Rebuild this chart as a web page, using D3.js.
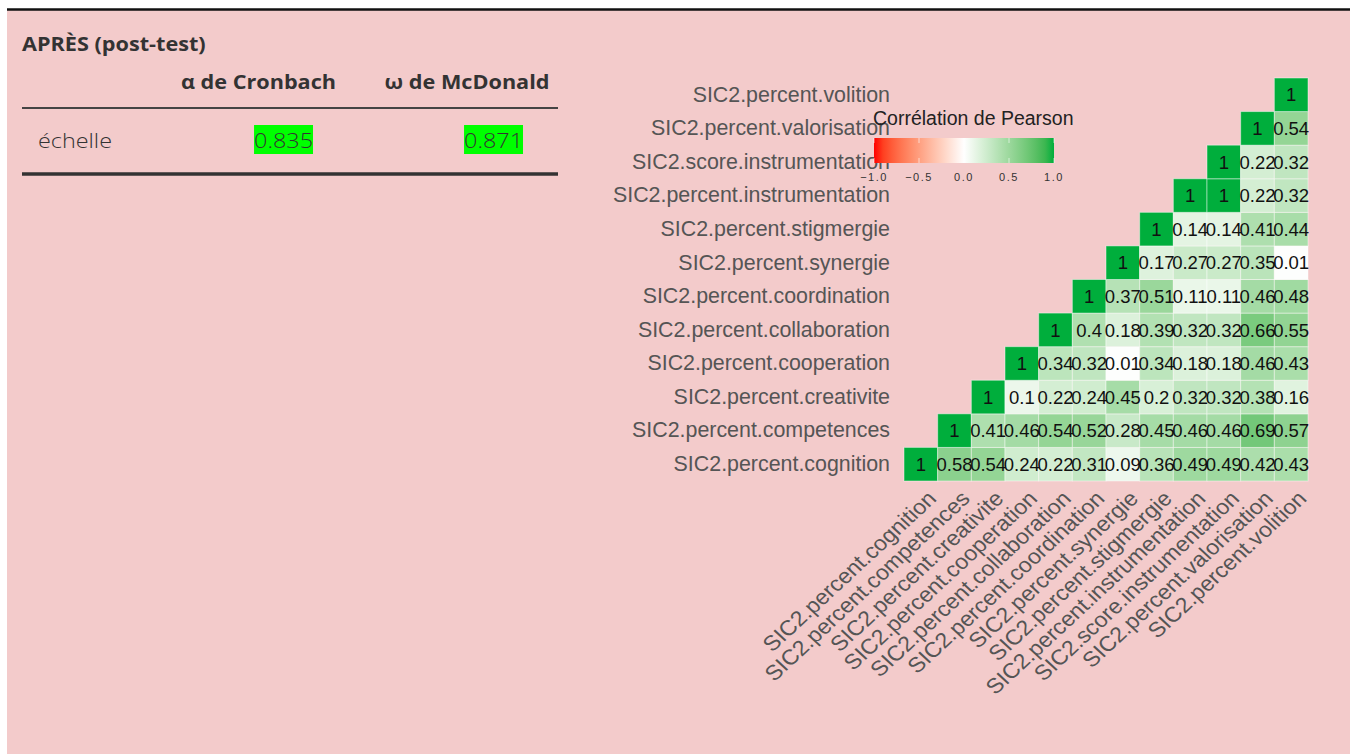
<!DOCTYPE html>
<html>
<head>
<meta charset="utf-8">
<script src="https://cdn.jsdelivr.net/npm/d3@7"></script>
<style>
  html, body { margin: 0; padding: 0; background: #ffffff; }
  svg { display: block; }
</style>
</head>
<body>
<svg id="chart" width="1350" height="754"></svg>
<script>
// ---- Reliability table ----
const tableTitle = "APRÈS (post-test)";
const tableHeaders = ["α de Cronbach", "ω de McDonald"];
const tableRowLabel = "échelle";
const tableValues = [0.835, 0.871];

// ---- Correlation matrix (upper triangle, each row starts on the diagonal) ----
const variables = [
  "SIC2.percent.cognition",
  "SIC2.percent.competences",
  "SIC2.percent.creativite",
  "SIC2.percent.cooperation",
  "SIC2.percent.collaboration",
  "SIC2.percent.coordination",
  "SIC2.percent.synergie",
  "SIC2.percent.stigmergie",
  "SIC2.percent.instrumentation",
  "SIC2.score.instrumentation",
  "SIC2.percent.valorisation",
  "SIC2.percent.volition"
];
const corrCognition      = [1, 0.58, 0.54, 0.24, 0.22, 0.31, 0.09, 0.36, 0.49, 0.49, 0.42, 0.43];
const corrCompetences    = [1, 0.41, 0.46, 0.54, 0.52, 0.28, 0.45, 0.46, 0.46, 0.69, 0.57];
const corrCreativite     = [1, 0.10, 0.22, 0.24, 0.45, 0.20, 0.32, 0.32, 0.38, 0.16];
const corrCooperation    = [1, 0.34, 0.32, 0.01, 0.34, 0.18, 0.18, 0.46, 0.43];
const corrCollaboration  = [1, 0.40, 0.18, 0.39, 0.32, 0.32, 0.66, 0.55];
const corrCoordination   = [1, 0.37, 0.51, 0.11, 0.11, 0.46, 0.48];
const corrSynergie       = [1, 0.17, 0.27, 0.27, 0.35, 0.01];
const corrStigmergie     = [1, 0.14, 0.14, 0.41, 0.44];
const corrPctInstrum     = [1, 1, 0.22, 0.32];
const corrScoreInstrum   = [1, 0.22, 0.32];
const corrValorisation   = [1, 0.54];
const corrVolition       = [1];
const corrRows = [corrCognition, corrCompetences, corrCreativite, corrCooperation,
  corrCollaboration, corrCoordination, corrSynergie, corrStigmergie,
  corrPctInstrum, corrScoreInstrum, corrValorisation, corrVolition];

const legendTitle = "Corrélation de Pearson";
const legendTicks = [-1, -0.5, 0, 0.5, 1];

// ---- Page frame ----
const svg = d3.select("#chart");
svg.append("rect").attr("x", 7).attr("y", 9).attr("width", 1343).attr("height", 745)
  .attr("fill", "#F3CBCB");
svg.append("line").attr("x1", 7).attr("x2", 1350).attr("y1", 9.5).attr("y2", 9.5)
  .attr("stroke", "#111").attr("stroke-width", 2.5);

// ---- Table ----
// The table face is wide: widen Open Sans horizontally around each anchor.
const boldStretch = 1.14, bodyStretch = 1.2;
const tbl = svg.append("g").attr("font-family", "'Open Sans', Lato, sans-serif").attr("fill", "#333");
tbl.append("text").attr("transform", `translate(22,51) scale(${boldStretch},1)`)
  .attr("font-size", 19).attr("font-weight", 700)
  .text(tableTitle);
const headerCenters = [258.5, 467];
tbl.selectAll("text.hdr").data(tableHeaders).join("text").attr("class", "hdr")
  .attr("transform", (d, i) => `translate(${headerCenters[i]},89) scale(${boldStretch},1)`)
  .attr("text-anchor", "middle").attr("font-size", 19).attr("font-weight", 700)
  .text(d => d);
tbl.append("line").attr("x1", 22).attr("x2", 558).attr("y1", 108).attr("y2", 108)
  .attr("stroke", "#444").attr("stroke-width", 2);
tbl.append("text").attr("transform", `translate(38,148) scale(${bodyStretch},1)`)
  .attr("font-size", 19.5).attr("font-weight", 300)
  .text(tableRowLabel);
const valueRight = [313, 523];
const valG = tbl.selectAll("g.val").data(tableValues).join("g").attr("class", "val");
const valText = valG.append("text")
  .attr("transform", (d, i) => `translate(${valueRight[i]},148) scale(${bodyStretch},1)`)
  .attr("text-anchor", "end").attr("font-size", 19.5).attr("font-weight", 300)
  .text(d => d3.format(".3f")(d));
valText.each(function (d, i) {
  const b = this.getBBox();
  d3.select(this.parentNode).insert("rect", "text")
    .attr("x", valueRight[i] + b.x * bodyStretch).attr("y", 125)
    .attr("width", b.width * bodyStretch).attr("height", 29)
    .attr("fill", "#00FF00");
});
tbl.append("line").attr("x1", 22).attr("x2", 558).attr("y1", 174).attr("y2", 174)
  .attr("stroke", "#333").attr("stroke-width", 3.5);

// ---- Correlation heatmap ----
const x = d3.scaleBand().domain(variables).range([904, 1308]);
const y = d3.scaleBand().domain(variables).range([481, 78]);
const color = d3.scaleLinear().domain([-1, 0, 1])
  .range(["#FF0000", "#FFFFFF", "#00AE3C"]).interpolate(d3.interpolateLab);

const cells = [];
corrRows.forEach((row, i) => {
  row.forEach((v, k) => {
    cells.push({ row: variables[i], col: variables[i + k], value: v });
  });
});

const heat = svg.append("g").attr("font-family", "'Liberation Sans', Arial, sans-serif");
heat.selectAll("rect.cell").data(cells).join("rect").attr("class", "cell")
  .attr("x", d => x(d.col)).attr("y", d => y(d.row))
  .attr("width", x.bandwidth()).attr("height", y.bandwidth())
  .attr("fill", d => color(d.value))
  .attr("stroke", "rgba(255,255,255,0.45)").attr("stroke-width", 1);
heat.selectAll("text.lab").data(cells).join("text").attr("class", "lab")
  .attr("x", d => x(d.col) + x.bandwidth() / 2)
  .attr("y", d => y(d.row) + y.bandwidth() / 2)
  .attr("dy", "0.36em").attr("text-anchor", "middle")
  .attr("font-size", 18.5).attr("fill", "#111")
  .text(d => d3.format("~g")(d.value));

// y axis labels
const yAxis = d3.axisLeft(y).tickSize(0).tickPadding(14);
const gy = svg.append("g").attr("transform", "translate(904,0)").call(yAxis);
gy.select(".domain").remove();
gy.selectAll("text").attr("font-family", "'Liberation Sans', Arial, sans-serif")
  .attr("font-size", 21.4).attr("fill", "#555");

// x axis labels, rotated 45 degrees
const xAxis = d3.axisBottom(x).tickSize(0).tickPadding(0);
const gx = svg.append("g").attr("transform", "translate(5,489)").call(xAxis);
gx.select(".domain").remove();
gx.selectAll("text").attr("font-family", "'Liberation Sans', Arial, sans-serif")
  .attr("font-size", 21.4).attr("fill", "#555")
  .attr("text-anchor", "end").attr("y", 0).attr("dy", "0.72em")
  .attr("transform", "scale(1.08,1) rotate(-45)");

// ---- Legend ----
const lg = svg.append("g").attr("font-family", "'Liberation Sans', Arial, sans-serif");
const lx = d3.scaleLinear().domain([-1, 1]).range([874, 1054]);
const grad = svg.append("defs").append("linearGradient").attr("id", "corrGrad");
d3.range(0, 1.0001, 0.05).forEach(t => {
  grad.append("stop").attr("offset", t).attr("stop-color", color(-1 + 2 * t));
});
lg.append("text").attr("x", 873).attr("y", 125).attr("font-size", 19.5).attr("fill", "#222")
  .text(legendTitle);
lg.append("rect").attr("x", lx(-1)).attr("y", 138).attr("width", lx(1) - lx(-1)).attr("height", 25)
  .attr("fill", "url(#corrGrad)");
legendTicks.forEach(t => {
  lg.append("line").attr("x1", lx(t)).attr("x2", lx(t)).attr("y1", 138).attr("y2", 143)
    .attr("stroke", "#fff").attr("stroke-opacity", 0.6);
  lg.append("line").attr("x1", lx(t)).attr("x2", lx(t)).attr("y1", 158).attr("y2", 163)
    .attr("stroke", "#fff").attr("stroke-opacity", 0.6);
});
lg.selectAll("text.tick").data(legendTicks).join("text").attr("class", "tick")
  .attr("x", d => lx(d)).attr("y", 181).attr("text-anchor", "middle")
  .attr("font-size", 11).attr("letter-spacing", 1.5).attr("fill", "#333")
  .text(d => d3.format(".1f")(d));
</script>
</body>
</html>
